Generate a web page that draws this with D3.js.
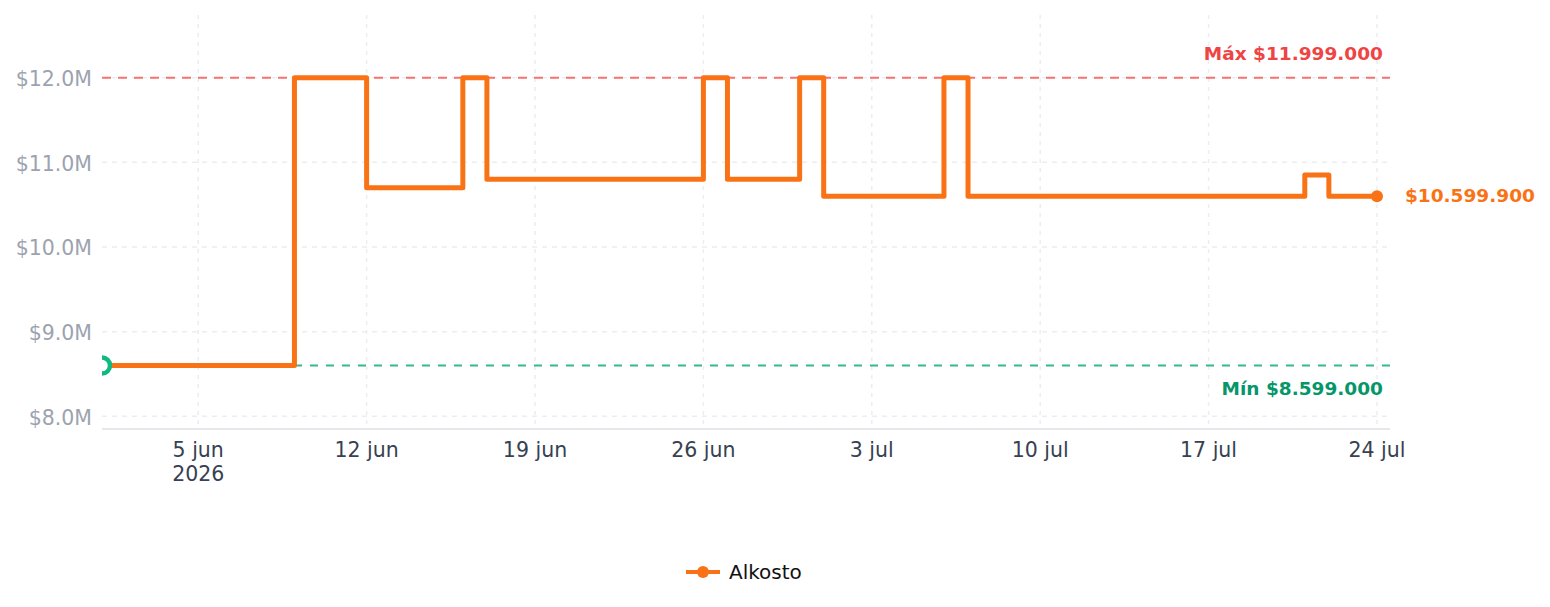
<!DOCTYPE html>
<html>
<head>
<meta charset="utf-8">
<script src="https://cdn.jsdelivr.net/npm/d3@7/dist/d3.min.js"></script>
<style>
  html, body { margin: 0; padding: 0; background: #fff; }
  svg { display: block; font-family: "DejaVu Sans", sans-serif; }
</style>
</head>
<body>
<svg id="chart" width="1550" height="607"></svg>
<script>
// ---- Data ----
const seriesName = "Alkosto";
const dates = ["2026-06-01","2026-06-09","2026-06-12","2026-06-16","2026-06-17","2026-06-26","2026-06-27","2026-06-30","2026-07-01","2026-07-06","2026-07-07","2026-07-21","2026-07-22","2026-07-24"];
const prices = [8599000,11999000,10699000,11999000,10799000,11999000,10799000,11999000,10599900,11999000,10599900,10849000,10599900,10599900];
const xTickDates = ["2026-06-05","2026-06-12","2026-06-19","2026-06-26","2026-07-03","2026-07-10","2026-07-17","2026-07-24"];
const xTickLabels = ["5 jun","12 jun","19 jun","26 jun","3 jul","10 jul","17 jul","24 jul"];
const yTicks = [8000000,9000000,10000000,11000000,12000000];
const yTickLabels = ["$8.0M","$9.0M","$10.0M","$11.0M","$12.0M"];
const maxPrice = 11999000, minPrice = 8599000;
const maxLabel = "Máx $11.999.000", minLabel = "Mín $8.599.000", lastLabel = "$10.599.900";

(function(){
const parse = d3.utcParse("%Y-%m-%d");
const data = dates.map((d,i) => ({date: parse(d), price: prices[i]}));

const pL = 102, pR = 1390, pT = 15, pB = 428;
const svg = d3.select("#chart");

const x = d3.scaleUtc()
  .domain([parse("2026-06-01"), new Date(Date.UTC(2026,6,24,13))])
  .range([pL, pR]);
const y = d3.scaleLinear()
  .domain([7862000, 12740000])
  .range([pB, pT]);

// clip
svg.append("defs").append("clipPath").attr("id","plot")
  .append("rect").attr("x", pL).attr("y", pT - 10).attr("width", pR - pL).attr("height", pB - pT + 10);

// grid
const grid = svg.append("g");
grid.selectAll("line.h").data(yTicks).join("line")
  .attr("x1", pL).attr("x2", pR)
  .attr("y1", d => y(d)).attr("y2", d => y(d))
  .attr("stroke", "#ebedf0").attr("stroke-width", 1.5).attr("stroke-dasharray", "5,5");
grid.selectAll("line.v").data(xTickDates).join("line")
  .attr("x1", d => x(parse(d))).attr("x2", d => x(parse(d)))
  .attr("y1", pT).attr("y2", pB)
  .attr("stroke", "#ebedf0").attr("stroke-width", 1.5).attr("stroke-dasharray", "4,5");

// bottom axis line
svg.append("line").attr("x1", pL).attr("x2", pR).attr("y1", 429).attr("y2", 429)
  .attr("stroke", "#e5e7eb").attr("stroke-width", 2);

// y labels
svg.append("g").selectAll("text").data(yTicks).join("text")
  .attr("x", 92).attr("y", d => y(d) + 8.5)
  .attr("text-anchor", "end").attr("font-size", 20.5).attr("fill", "#9ca3af")
  .text((d,i) => yTickLabels[i]);

// x labels
const xl = svg.append("g").selectAll("text").data(xTickDates).join("text")
  .attr("x", d => x(parse(d))).attr("y", 457)
  .attr("text-anchor", "middle").attr("font-size", 20.5).attr("fill", "#374151");
xl.each(function(d,i){
  const t = d3.select(this);
  t.append("tspan").attr("x", x(parse(d))).text(xTickLabels[i]);
  if (i === 0) t.append("tspan").attr("x", x(parse(d))).attr("dy", 23.5).text("2026");
});

// max / min reference lines
svg.append("line").attr("x1", pL).attr("x2", pR).attr("y1", y(maxPrice)).attr("y2", y(maxPrice))
  .attr("stroke", "#f87171").attr("stroke-width", 2).attr("stroke-dasharray", "9,7");
svg.append("line").attr("x1", pL).attr("x2", pR).attr("y1", y(minPrice)).attr("y2", y(minPrice))
  .attr("stroke", "#34b98a").attr("stroke-width", 2).attr("stroke-dasharray", "8,8");
svg.append("text").attr("x", 1383).attr("y", 60).attr("text-anchor", "end")
  .attr("font-size", 18.5).attr("font-weight", "bold").attr("fill", "#ef4444").text(maxLabel);
svg.append("text").attr("x", 1383).attr("y", 395).attr("text-anchor", "end")
  .attr("font-size", 18.5).attr("font-weight", "bold").attr("fill", "#059669").text(minLabel);

// series line
const line = d3.line().x(d => x(d.date)).y(d => y(d.price)).curve(d3.curveStepAfter);
const plot = svg.append("g").attr("clip-path", "url(#plot)");
plot.append("path").datum(data).attr("d", line)
  .attr("fill", "none").attr("stroke", "#f97316").attr("stroke-width", 5)
  .attr("stroke-linejoin", "round");

// min marker at start
const first = data[0];
plot.append("circle").attr("cx", x(first.date)).attr("cy", y(first.price)).attr("r", 8)
  .attr("fill", "#fff").attr("stroke", "#10b981").attr("stroke-width", 4.5);

// last point
const last = data[data.length - 1];
svg.append("circle").attr("cx", x(last.date)).attr("cy", y(last.price)).attr("r", 6).attr("fill", "#f97316");
svg.append("text").attr("x", x(last.date) + 28).attr("y", y(last.price) + 6)
  .attr("font-size", 18.5).attr("font-weight", "bold").attr("fill", "#f97316").text(lastLabel);

// legend
const lg = svg.append("g");
lg.append("line").attr("x1", 686).attr("x2", 720).attr("y1", 572).attr("y2", 572)
  .attr("stroke", "#f97316").attr("stroke-width", 4);
lg.append("circle").attr("cx", 703).attr("cy", 572).attr("r", 6).attr("fill", "#f97316");
lg.append("text").attr("x", 729).attr("y", 579).attr("font-size", 20).attr("fill", "#111").text(seriesName);
})();
</script>
</body>
</html>
